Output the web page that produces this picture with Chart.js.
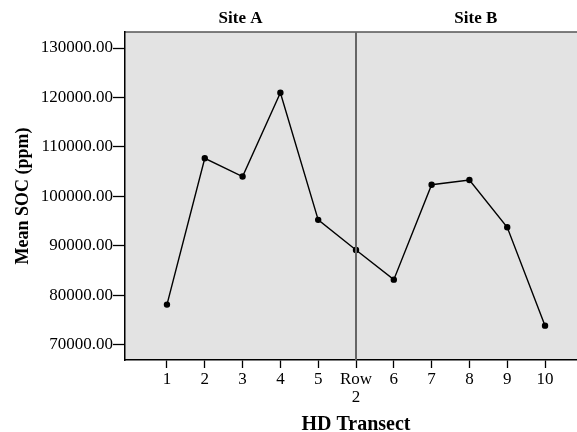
<!DOCTYPE html>
<html>
<head>
<meta charset="utf-8">
<script src="https://cdn.jsdelivr.net/npm/chart.js@4"></script>
<style>
  html, body { margin: 0; padding: 0; overflow: hidden; background: #fff; }
  #wrap { width: 600px; height: 440px; }
</style>
</head>
<body>
<div id="wrap"><canvas id="socChart" width="600" height="440"></canvas></div>
<script>
// HD transect categories (Row 2 separates the two sites)
const categories = ['1', '2', '3', '4', '5', ['Row', '2'], '6', '7', '8', '9', '10'];
const socMeans = [78100, 107700, 104000, 120950, 95250, 89150, 83150, 102350, 103300, 93750, 73850];
const yTickValues = [70000, 80000, 90000, 100000, 110000, 120000, 130000];
const siteLabels = ['Site A', 'Site B'];
const dividerIndex = 5;

const serif = "'Liberation Serif', 'Times New Roman', serif";

const panelPlugin = {
  id: 'panels',
  beforeDraw(chart) {
    const { ctx, chartArea } = chart;
    ctx.save();
    ctx.fillStyle = '#e3e3e3';
    ctx.fillRect(chartArea.left, chartArea.top, chartArea.right - chartArea.left, chartArea.bottom - chartArea.top);
    ctx.strokeStyle = '#555';
    ctx.lineWidth = 1.5;
    ctx.beginPath();
    ctx.moveTo(chartArea.left, chartArea.top);
    ctx.lineTo(chartArea.right, chartArea.top);
    ctx.stroke();
    ctx.restore();
  },
  afterDatasetsDraw(chart) {
    const { ctx, chartArea, scales } = chart;
    const xd = scales.x.getPixelForValue(dividerIndex);
    ctx.save();
    ctx.strokeStyle = '#666';
    ctx.lineWidth = 2;
    ctx.beginPath();
    ctx.moveTo(xd, chartArea.top);
    ctx.lineTo(xd, chartArea.bottom);
    ctx.stroke();

    // site titles above each panel
    ctx.fillStyle = '#000';
    ctx.font = 'bold 17px ' + serif;
    ctx.textAlign = 'center';
    ctx.textBaseline = 'middle';
    ctx.fillText(siteLabels[0], (chartArea.left + xd) / 2, 19);
    ctx.fillText(siteLabels[1], scales.x.getPixelForValue(8.17), 19);
    ctx.restore();
  }
};

new Chart(document.getElementById('socChart'), {
  type: 'line',
  data: {
    datasets: [{
      label: 'Mean SOC',
      data: socMeans.map((v, i) => ({ x: i, y: v })),
      borderColor: '#000',
      backgroundColor: '#000',
      borderWidth: 1.4,
      pointRadius: 2.5,
      pointHoverRadius: 2.5,
      tension: 0
    }]
  },
  options: {
    responsive: false,
    animation: false,
    layout: { padding: { top: 32, right: 13, left: 0, bottom: 0 } },
    plugins: {
      legend: { display: false },
      tooltip: { enabled: false }
    },
    scales: {
      x: {
        type: 'linear',
        min: -1.11,
        max: 11.11,
        afterBuildTicks: (scale) => { scale.ticks = categories.map((_, i) => ({ value: i })); },
        afterFit: (scale) => { scale.height = 80; },
        grid: { drawOnChartArea: false, tickLength: 8, color: '#000', tickWidth: 1.3 },
        border: { color: '#000', width: 1.5 },
        ticks: {
          color: '#000',
          padding: 3,
          maxRotation: 0,
          autoSkip: false,
          font: { family: serif, size: 17, lineHeight: 1.05 },
          callback: (v) => categories[v]
        },
        title: {
          display: true,
          text: 'HD Transect',
          color: '#000',
          font: { family: serif, size: 20, weight: 'bold', lineHeight: 1.0 },
          padding: { top: 0, bottom: 5 }
        }
      },
      y: {
        min: 66900,
        max: 133240,
        afterBuildTicks: (scale) => { scale.ticks = yTickValues.map(v => ({ value: v })); },
        afterFit: (scale) => { scale.width = 125; },
        grid: { drawOnChartArea: false, tickLength: 12, color: '#000', tickWidth: 1.3 },
        border: { color: '#000', width: 1.5 },
        ticks: {
          color: '#000',
          padding: 0,
          font: { family: serif, size: 17 },
          callback: (v) => v.toFixed(2)
        },
        title: {
          display: true,
          text: 'Mean SOC (ppm)',
          color: '#000',
          font: { family: serif, size: 18, weight: 'bold' },
          padding: { top: 13, bottom: 0 }
        }
      }
    }
  },
  plugins: [panelPlugin]
});
</script>
</body>
</html>
